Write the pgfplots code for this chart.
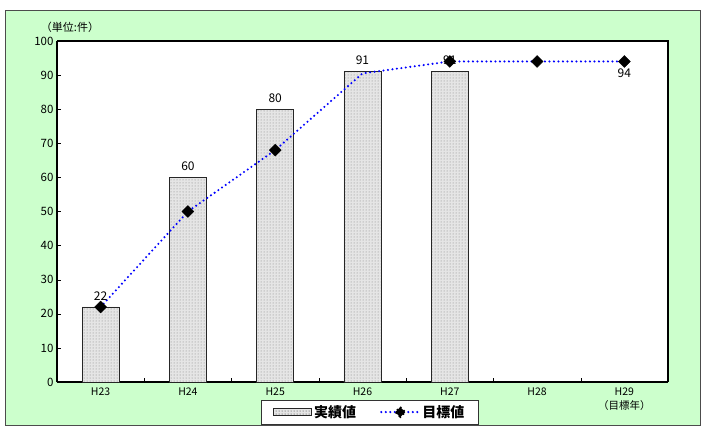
\documentclass[border=0pt]{standalone}
\usepackage{fontspec}
\setmainfont{Noto Sans CJK JP}
\usepackage{pgfplots}
\pgfplotsset{compat=1.18}
\usetikzlibrary{patterns}
\definecolor{bggreen}{HTML}{CCFFCC}
\begin{document}
\begin{tikzpicture}
\fill[white] (0pt,0pt) rectangle (705pt,429pt);
\draw[fill=bggreen, draw=black!70, line width=0.8pt] (5pt,4pt) rectangle (700pt,419pt);
\node[font=\fontsize{11}{12}\selectfont] at (70pt,402pt) {（単位:件）};
\begin{axis}[
  at={(57pt,47pt)}, anchor=south west,
  scale only axis, width=611pt, height=341pt,
  xmin=-0.5, xmax=6.5, ymin=0, ymax=100,
  axis background/.style={fill=white},
  axis line style={line width=1.1pt},
  xtick={0,...,6},
  xticklabels={H23,H24,H25,H26,H27,H28,{H29\\（目標年）}},
  xticklabel style={align=center, font=\fontsize{10.5}{14}\selectfont, anchor=north, yshift=-2pt},
  major x tick style={draw=none},
  minor xtick={0.5,1.5,...,5.5},
  minor tick length=4pt,
  minor x tick style={black, line width=0.4pt},
  ytick={0,10,...,100},
  yticklabel style={font=\fontsize{11.5}{13}\selectfont},
  y tick style={black, line width=0.4pt},
  major tick length=4pt,
  tick align=inside,
  axis x line*=bottom, axis y line*=left,
  /pgf/number format/assume math mode=true,
  legend style={at={(0.512,-0.053)}, anchor=north, legend columns=2,
    draw=black!80, line width=0.6pt, font=\fontsize{14}{16}\selectfont\bfseries,
    inner ysep=3pt, inner xsep=12pt,
    /tikz/every even column/.append style={column sep=22pt}},
  clip=false,
]
\draw[line width=1.1pt] (rel axis cs:0,1) -- (rel axis cs:1,1) -- (rel axis cs:1,0);
\addplot[ybar, bar width=37pt, draw=black!85, line width=0.9pt,
  fill=black!10, postaction={pattern=dots, pattern color=black!50},
  nodes near coords, nodes near coords style={font=\fontsize{12}{14}\selectfont, black, yshift=3pt},
  legend image code/.code={\draw[draw=black!85, line width=0.9pt, fill=black!10, postaction={pattern=dots, pattern color=black!50}] (0,-3.5pt) rectangle (38pt,3.5pt);}]
  coordinates {(0,22) (1,60) (2,80) (3,91) (4,91)};
\addlegendentry{実績値}
\addplot[blue, dash pattern=on 0pt off 4.5pt, line cap=round, line width=2.3pt,
  mark=square*, mark size=4.2pt,
  mark options={solid, fill=black, draw=black, line width=0.4pt, rotate=45}, mark indices={1,2,3,5,6,7},
  legend image code/.code={\draw[blue, dash pattern=on 0pt off 4.5pt, line cap=round, line width=2.3pt] (0,0) -- (38pt,0); \fill[black] (19pt,0) +(0,-5pt) -- +(5pt,0) -- +(0,5pt) -- +(-5pt,0) -- cycle;}]
  coordinates {(0,22) (1,50) (2,68) (3,90.5) (4,94) (5,94) (6,94)};
\addlegendentry{目標値}
\node[below, font=\fontsize{12}{14}\selectfont, yshift=-4pt] at (axis cs:6,94) {94};
\end{axis}
\end{tikzpicture}
\end{document}
